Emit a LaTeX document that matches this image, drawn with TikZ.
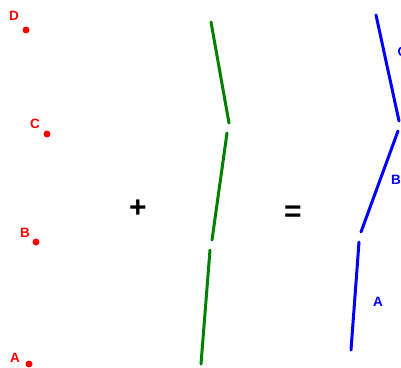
\documentclass[tikz,border=0pt]{standalone}
\usepackage{fontspec}
\setmainfont{Liberation Sans}
\usetikzlibrary{positioning}
\definecolor{ptred}{HTML}{FF0000}
\definecolor{segreen}{HTML}{008000}
\definecolor{segblue}{HTML}{0000FF}
\begin{document}
\begin{tikzpicture}[x=1pt, y=-1pt, line cap=round,
  pt/.style={circle, fill=ptred, inner sep=0pt, minimum size=7pt},
  ptlabel/.style={text=ptred, font=\fontsize{13.5}{13.5}\selectfont\bfseries, inner sep=0pt},
  seglabel/.style={text=segblue, font=\fontsize{13.5}{13.5}\selectfont\bfseries, inner sep=0pt},
  opsign/.style={font=\fontsize{30}{30}\selectfont\bfseries, inner sep=0pt},
  greenseg/.style={segreen, line width=3pt},
  blueseg/.style={segblue, line width=3pt}]
\useasboundingbox (0,0) rectangle (401,367);
% control points
\node[pt] (pD) at (26,30) {};
\node[pt] (pC) at (47,134) {};
\node[pt] (pB) at (36,242) {};
\node[pt] (pA) at (29,364) {};
\node[ptlabel] (lD) at (14,16) {D};
\node[ptlabel] (lC) at (35,124) {C};
\node[ptlabel] (lB) at (25,233) {B};
\node[ptlabel] (lA) at (15,358) {A};
% operators
\node[opsign] (plus) at (138,209) {+};
\node[opsign] (equals) at (293,214) {=};
% green pieces
\coordinate (g1a) at (211,22);
\coordinate (g1b) at (229,123);
\coordinate (g2a) at (227,133);
\coordinate (g2b) at (212,240);
\coordinate (g3a) at (210,250);
\coordinate (g3b) at (201,364);
\draw[greenseg] (g1a) -- (g1b);
\draw[greenseg] (g2a) -- (g2b);
\draw[greenseg] (g3a) -- (g3b);
% blue curve
\coordinate (bCa) at (376,15);
\coordinate (bCb) at (399,121);
\coordinate (bBa) at (398,131);
\coordinate (bBb) at (361,232);
\coordinate (bAa) at (359,242);
\coordinate (bAb) at (351,350);
\draw[blueseg] (bCa) -- (bCb);
\draw[blueseg] (bBa) -- (bBb);
\draw[blueseg] (bAa) -- (bAb);
\node[seglabel] (lblC) at (402.5,52) {C};
\node[seglabel] (lblB) at (396,180) {B};
\node[seglabel] (lblA) at (378,302) {A};
\end{tikzpicture}
\end{document}
